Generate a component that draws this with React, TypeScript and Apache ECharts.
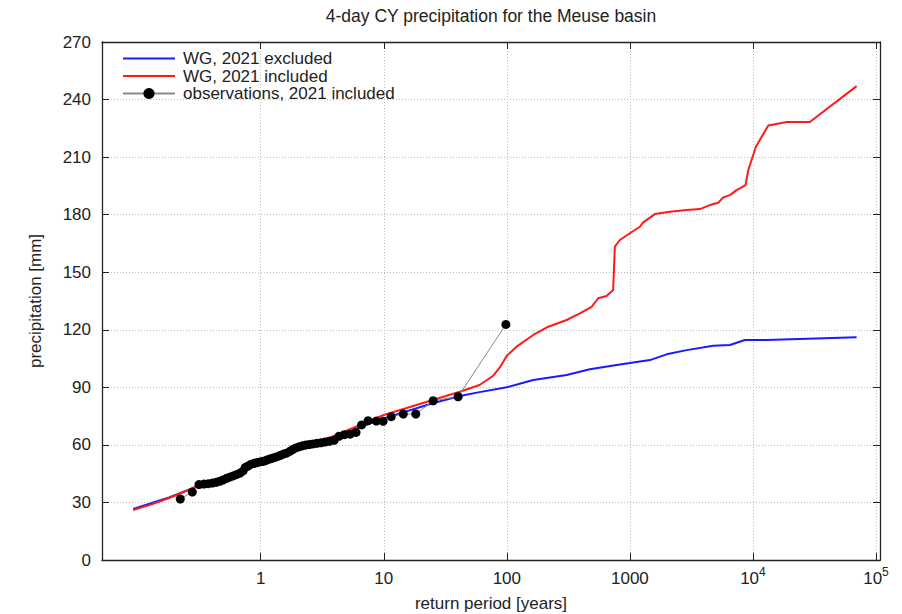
import React, { useEffect, useRef } from "react";
import * as echarts from "echarts";

// ---- axis settings (data space) ----
const X_MIN = 0.0513;
const X_MAX = 107800;
const X_TICKS = [1, 10, 100, 1000, 10000, 100000];
const Y_MIN = 0;
const Y_MAX = 270;
const Y_STEP = 30;

// ---- WG, 2021 excluded (blue) ----
const wgExclT = [0.092, 0.18, 0.28, 0.45, 0.72, 1.04, 1.83, 2.8, 4.4, 10, 25, 41.5, 60, 100, 164, 306, 473, 780, 1455, 1987, 2890, 4760, 6500, 8610, 12900, 69600];
const wgExclP = [26.6, 32.6, 37.5, 42.5, 46.8, 51.0, 57.0, 60.6, 65.3, 73.8, 81.7, 85.5, 87.5, 90.0, 93.8, 96.4, 99.4, 101.6, 104.2, 107.2, 109.4, 111.7, 112.1, 114.7, 114.7, 116.1];

// ---- WG, 2021 included (red) ----
const wgInclT = [0.092, 0.13, 0.18, 0.28, 0.45, 0.72, 1.04, 1.83, 2.8, 4.4, 10, 25, 41.5, 60, 77, 88, 100, 120, 164, 217, 306, 392, 489, 553, 646, 731, 755, 829, 1000, 1206, 1283, 1597, 2115, 2890, 3707, 4470, 5220, 5740, 6500, 7360, 8710, 9170, 10570, 13330, 18800, 29000, 69600];
const wgInclP = [26.1, 29.0, 32.3, 37.4, 42.5, 46.9, 51.2, 57.3, 61.0, 66.0, 75.6, 83.4, 87.7, 91.2, 95.9, 100.5, 106.5, 111.2, 117.3, 121.6, 125.1, 128.6, 132.0, 136.4, 137.6, 140.7, 163.3, 166.8, 170.3, 173.7, 176.0, 180.3, 181.5, 182.4, 182.9, 185.0, 186.2, 189.0, 190.2, 192.8, 195.4, 203.3, 215.4, 226.5, 228.3, 228.3, 247.0];

// ---- observations, 2021 included ----
const obsT = [0.222, 0.278, 0.315, 0.345, 0.375, 0.405, 0.435, 0.465, 0.495, 0.53, 0.565, 0.6, 0.64, 0.68, 0.72, 0.75, 0.79, 0.83, 0.875, 0.92, 0.97, 1.02, 1.07, 1.12, 1.18, 1.24, 1.31, 1.38, 1.45, 1.53, 1.62, 1.72, 1.82, 1.93, 2.05, 2.18, 2.32, 2.48, 2.66, 2.86, 3.08, 3.33, 3.62, 3.95, 4.33, 4.78, 5.33, 5.95, 6.6, 7.45, 8.7, 9.87, 11.5, 14.4, 18.2, 25.2, 40.2, 98.2];
const obsP = [31.8, 35.4, 39.3, 39.6, 39.8, 40.1, 40.5, 41.0, 41.7, 42.6, 43.3, 43.9, 44.6, 45.3, 46.5, 48.3, 49.0, 49.8, 50.3, 50.7, 51.0, 51.3, 51.6, 52.1, 52.6, 53.0, 53.5, 54.0, 54.6, 55.2, 55.7, 56.6, 57.6, 58.4, 59.0, 59.5, 59.9, 60.2, 60.5, 60.8, 61.1, 61.5, 61.9, 62.4, 64.5, 65.3, 65.6, 66.5, 70.4, 72.6, 72.4, 72.3, 74.7, 76.1, 76.1, 83.0, 85.1, 122.8];

const TITLE = "4-day CY precipitation for the Meuse basin";
const X_NAME = "return period [years]";
const Y_NAME = "precipitation [mm]";
const LEGEND = ["WG, 2021 excluded", "WG, 2021 included", "observations, 2021 included"];

const FONT = "'Liberation Sans', Arial, Helvetica, sans-serif";
const FS = 17;

const zip = (a: number[], b: number[]) => a.map((v, i) => [v, b[i]]);

export default function App() {
  const ref = useRef<HTMLDivElement>(null);

  useEffect(() => {
    if (!ref.current) return;
    const chart = echarts.init(ref.current, undefined, { renderer: "svg" });

    const axisLineStyle = { color: "#222", width: 1.3 };
    const tickStyle = { color: "#222", width: 1 };
    const gridLine = { color: "#bbb", width: 1, type: [1, 2] };

    const xLabelFormatter = (v: number) => {
      const e = Math.round(Math.log10(v));
      if (e <= 3) return `{b|${Math.pow(10, e)}}`;
      return `{b|10}{sup|${e}}`;
    };

    const option: any = {
      animation: false,
      backgroundColor: "#fff",
      textStyle: { fontFamily: FONT },
      graphic: [
        {
          type: "text",
          x: 491,
          y: 16,
          style: {
            text: TITLE,
            fill: "#222",
            font: `17.5px ${FONT}`,
            textAlign: "center",
            textVerticalAlign: "middle",
          },
        },
      ],
      grid: {
        left: 102,
        right: 22,
        top: 42,
        bottom: 54,
        containLabel: false,
        outerBoundsMode: "none",
        show: false,
      },
      legend: {
        orient: "vertical",
        left: 122,
        top: 50,
        itemWidth: 52,
        itemHeight: 14,
        itemGap: 0.5,
        padding: 0,
        data: [
          { name: LEGEND[0], itemStyle: { opacity: 0 } },
          { name: LEGEND[1], itemStyle: { opacity: 0 } },
          { name: LEGEND[2] },
        ],
        textStyle: { color: "#222", fontSize: FS, fontFamily: FONT, padding: [0, 0, 0, 3] },
        selectedMode: false,
      },
      xAxis: [
        {
          type: "log",
          logBase: 10,
          min: X_MIN,
          max: X_MAX,
          position: "bottom",
          name: X_NAME,
          nameLocation: "middle",
          nameGap: 35,
          nameTextStyle: { color: "#222", fontSize: FS, fontFamily: FONT },
          axisLine: { show: true, onZero: false, lineStyle: axisLineStyle },
          axisTick: { show: true, inside: true, length: 7, customValues: X_TICKS, lineStyle: tickStyle },
          minorTick: { show: false },
          axisLabel: {
            show: true,
            margin: 5,
            customValues: X_TICKS,
            formatter: xLabelFormatter,
            color: "#222",
            rich: {
              b: { fontSize: FS, lineHeight: 27, fontFamily: FONT, color: "#222" },
              sup: { fontSize: 12, padding: [0, 0, 13, 0], fontFamily: FONT, color: "#222" },
            },
          },
          splitLine: { show: true, lineStyle: gridLine },
        },
        {
          type: "log",
          logBase: 10,
          min: X_MIN,
          max: X_MAX,
          position: "top",
          axisLine: { show: true, onZero: false, lineStyle: axisLineStyle },
          axisTick: { show: true, inside: true, length: 7, customValues: X_TICKS, lineStyle: tickStyle },
          axisLabel: { show: false },
          splitLine: { show: false },
        },
      ],
      yAxis: [
        {
          type: "value",
          min: Y_MIN,
          max: Y_MAX,
          interval: Y_STEP,
          position: "left",
          name: Y_NAME,
          nameLocation: "middle",
          nameGap: 58,
          nameRotate: 90,
          nameTextStyle: { color: "#222", fontSize: FS, fontFamily: FONT },
          axisLine: { show: true, onZero: false, lineStyle: axisLineStyle },
          axisTick: { show: true, inside: true, length: 7, lineStyle: tickStyle },
          axisLabel: { show: true, margin: 11, color: "#222", fontSize: FS, fontFamily: FONT },
          splitLine: { show: true, lineStyle: gridLine },
        },
        {
          type: "value",
          min: Y_MIN,
          max: Y_MAX,
          interval: Y_STEP,
          position: "right",
          axisLine: { show: true, onZero: false, lineStyle: axisLineStyle },
          axisTick: { show: true, inside: true, length: 7, lineStyle: tickStyle },
          axisLabel: { show: false },
          splitLine: { show: false },
        },
      ],
      series: [
        {
          name: LEGEND[0],
          type: "line",
          xAxisIndex: 0,
          yAxisIndex: 0,
          data: zip(wgExclT, wgExclP),
          symbol: "none",
          lineStyle: { color: "#1a1aff", width: 2 },
          itemStyle: { color: "#1a1aff" },
          z: 2,
        },
        {
          name: LEGEND[1],
          type: "line",
          xAxisIndex: 0,
          yAxisIndex: 0,
          data: zip(wgInclT, wgInclP),
          symbol: "none",
          lineStyle: { color: "#ff1a1a", width: 2 },
          itemStyle: { color: "#ff1a1a" },
          z: 3,
        },
        {
          name: LEGEND[2],
          type: "line",
          xAxisIndex: 0,
          yAxisIndex: 0,
          data: zip(obsT, obsP),
          symbol: "circle",
          symbolSize: 9,
          showSymbol: true,
          lineStyle: { color: "#8a8a8a", width: 1 },
          itemStyle: { color: "#000" },
          z: 4,
        },
      ],
    };

    chart.setOption(option);
    return () => chart.dispose();
  }, []);

  return (
    <div
      ref={ref}
      style={{ position: "absolute", left: 0, top: 0, width: 902, height: 614 }}
    />
  );
}
